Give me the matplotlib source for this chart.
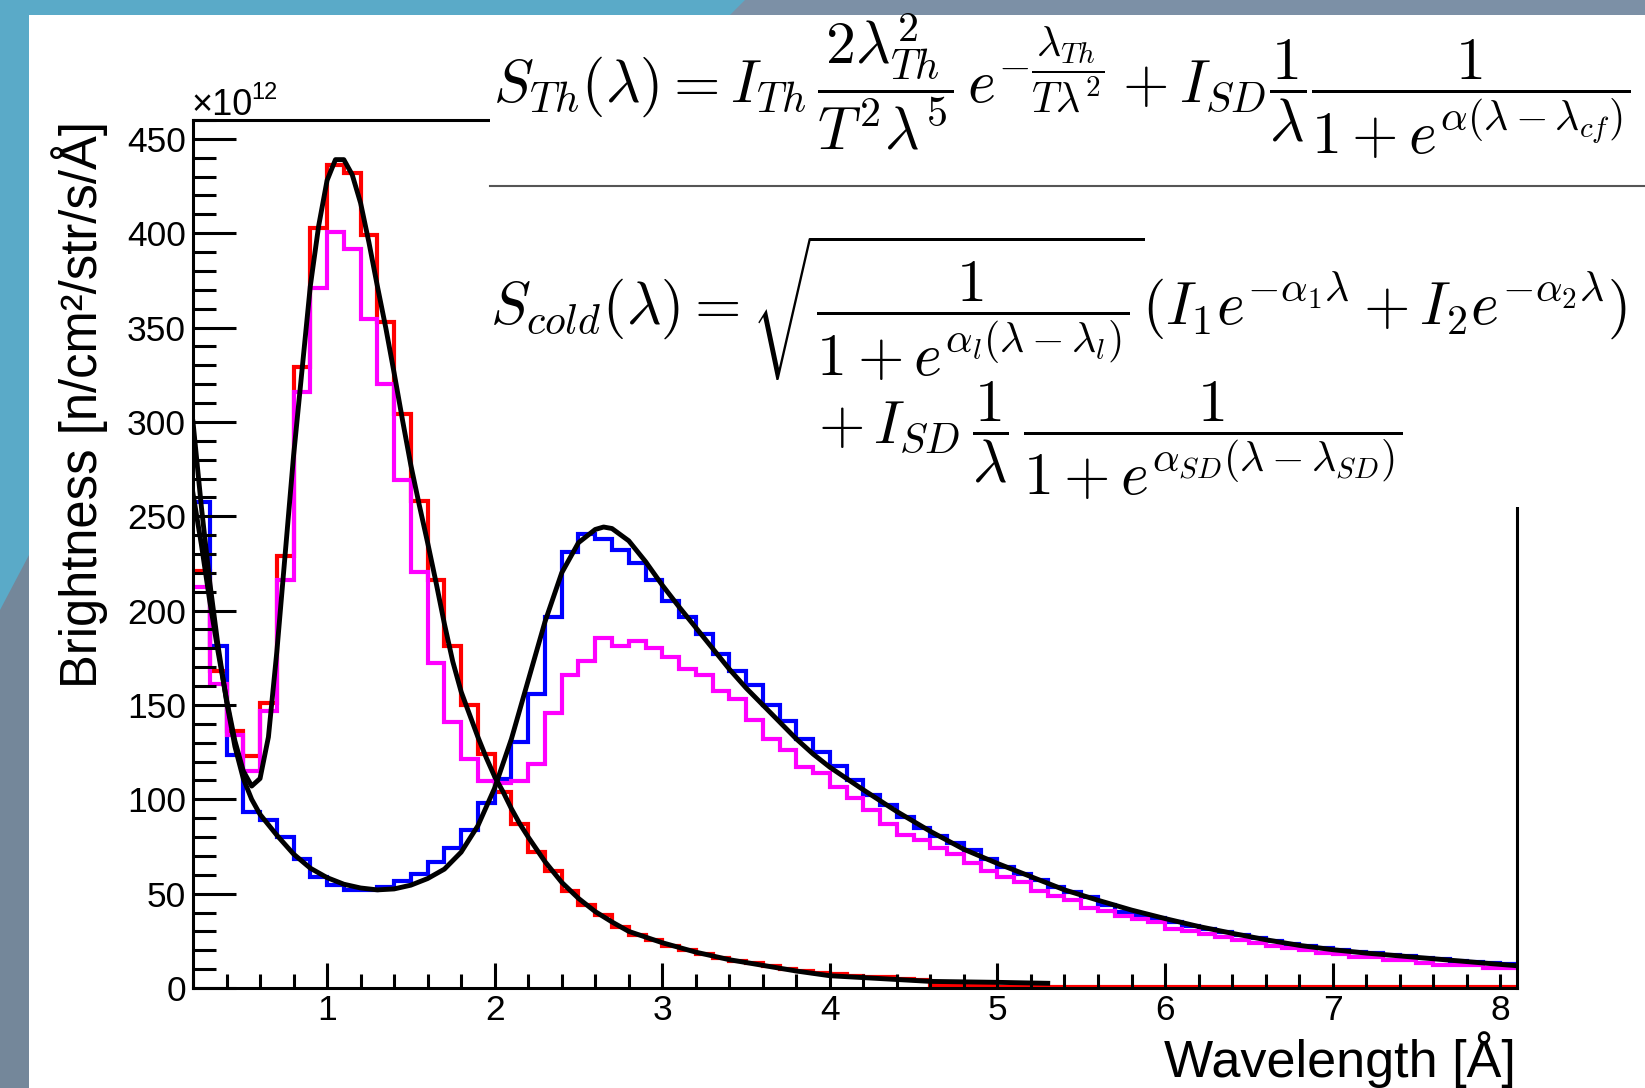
import numpy as np
import matplotlib
matplotlib.use("Agg")
import matplotlib.pyplot as plt
from matplotlib.patches import Rectangle, Polygon
from matplotlib.lines import Line2D
from matplotlib.ticker import MultipleLocator, FixedLocator

plt.rcParams['font.family'] = ['Liberation Sans', 'DejaVu Sans']
plt.rcParams['mathtext.fontset'] = 'cm'

W, H = 1645, 1088

# histogram bins (Angstrom), 0.1 wide from 0.2 to 8.1
bin_edges = np.round(np.arange(0.2, 8.1001, 0.1), 2)

# thermal moderator spectrum (red), x1e12 n/cm2/str/s/A
thermal_hist = [221, 168, 136, 123, 151, 229, 329, 403, 436, 432,
                399, 353, 304, 258, 216, 181, 150, 124, 104, 87,
                72, 62, 51.5, 44, 38.5, 32.5, 28, 25.5, 22.5, 20,
                18, 16, 14.5, 13, 11.5, 10, 9, 8, 7.4, 6.5,
                6, 6, 5, 4, 1.6, 1.2, 1.0, 0.8, 0.6, 0.4,
                0.3, 0.3, 0.3, 0.3, 0.3, 0.3, 0.3, 0.3, 0.3, 0.3,
                0.3, 0.3, 0.3, 0.3, 0.3, 0.3, 0.3, 0.3, 0.3, 0.3,
                0.3, 0.3, 0.3, 0.3, 0.3, 0.3, 0.3, 0.3, 0.3]

# cold moderator spectrum (blue)
cold_hist = [257.5, 181.5, 123.5, 93.5, 89, 80, 68.5, 59, 54.5, 52,
             52, 53.5, 56.5, 60.5, 67, 74, 83.5, 98, 111, 130.5,
             156, 196.5, 231, 240.5, 238, 232, 225, 216, 205, 196.5,
             187.5, 177, 168, 160.5, 150, 141.5, 132, 125, 117.5, 110,
             102.5, 97, 90.5, 85, 80.5, 77, 73, 68.5, 64, 60.5,
             57, 53.5, 51, 48, 44, 40.5, 38.5, 37, 35, 33,
             31.5, 29.5, 28, 26.5, 25, 23.5, 22.5, 21.3, 20.3, 19.3,
             18.5, 17.5, 16.8, 16, 15.2, 14.5, 13.8, 13.2, 12.5]

# mixed spectrum (magenta)
mixed_hist = [212.5, 161, 134, 115, 147, 216, 316, 371, 400.5, 391.5,
              354.5, 320, 269, 220.5, 172.5, 141, 121.5, 109.5, 108.5, 109.5,
              118.5, 145.5, 166, 173.5, 185.5, 181.5, 184, 180, 175.5, 169,
              166, 157.5, 153, 142, 132, 126, 117, 114, 106.5, 100.5,
              94.5, 87, 81, 78.5, 74, 71, 66.5, 62, 59, 56,
              51.5, 48.5, 46.5, 42.5, 41, 38, 36.5, 35, 31.5, 30,
              28.5, 27, 25.5, 24, 22.5, 21, 20, 18.5, 18, 16.5,
              16.5, 15, 15, 13.5, 12, 12, 12, 10.5, 10.5]

# fitted S_Th curve (black)
thermal_fit_x = [0.20, 0.25, 0.30, 0.35, 0.40, 0.45, 0.50, 0.55, 0.60, 0.65,
                 0.70, 0.75, 0.80, 0.85, 0.90, 0.95, 1.00, 1.05, 1.10, 1.15,
                 1.20, 1.25, 1.30, 1.35, 1.40, 1.45, 1.50, 1.55, 1.60, 1.65,
                 1.70, 1.75, 1.80, 1.85, 1.90, 1.95, 2.00, 2.05, 2.10, 2.15,
                 2.20, 2.30, 2.40, 2.50, 2.60, 2.70, 2.80, 2.90, 3.00, 3.20,
                 3.40, 3.60, 3.80, 4.00, 4.30, 4.60, 5.00, 5.30]
thermal_fit_y = [262, 235, 205, 178, 153, 131, 115, 107, 111, 133,
                 178, 230, 282, 327, 372, 404, 428, 439, 439, 431,
                 416, 395, 372, 350, 326, 301, 277, 256, 236, 215,
                 193, 173, 157, 145, 133, 122, 112, 104, 95, 87,
                 80, 67, 56, 47.5, 40.5, 35, 30, 27, 24, 19,
                 15, 12, 9, 6.5, 5, 3.5, 3, 2.5]

# fitted S_cold curve (black)
cold_fit_x = [0.20, 0.25, 0.30, 0.35, 0.40, 0.45, 0.50, 0.55, 0.60, 0.70,
              0.80, 0.90, 1.00, 1.10, 1.20, 1.30, 1.40, 1.50, 1.60, 1.70,
              1.80, 1.90, 2.00, 2.10, 2.20, 2.30, 2.40, 2.50, 2.60, 2.65,
              2.70, 2.80, 2.90, 3.00, 3.10, 3.20, 3.30, 3.40, 3.50, 3.60,
              3.70, 3.80, 3.90, 4.00, 4.20, 4.40, 4.60, 4.80, 5.00, 5.20,
              5.40, 5.60, 5.80, 6.00, 6.20, 6.40, 6.60, 6.80, 7.00, 7.20,
              7.40, 7.60, 7.80, 8.00, 8.10]
cold_fit_y = [300, 255, 215, 181, 152, 128, 111, 100, 92, 81,
              71, 63.5, 58.5, 55, 53, 52, 52.5, 54.5, 58, 63,
              72, 86, 106, 132, 163, 194, 220, 236, 243, 244.3,
              243.5, 237, 226, 213.5, 202, 191, 180, 169, 159, 150,
              141, 132, 124, 117, 105, 93.5, 83, 73.5, 66, 59,
              52, 46.5, 41.3, 36.8, 32.6, 29, 25.6, 22.6, 20.3, 18.5,
              17, 15.5, 14, 12.5, 11.8]

eq_th = (r"$S_{Th}(\lambda) = I_{Th}\,\dfrac{2\lambda_{Th}^{2}}{T^{2}\lambda^{5}}\,"
         r"e^{-\dfrac{\lambda_{Th}}{T\lambda^{2}}} + I_{SD}\dfrac{1}{\lambda}"
         r"\dfrac{1}{1+e^{\alpha(\lambda-\lambda_{cf})}}$")
eq_cold = (r"$S_{cold}(\lambda) = \sqrt{\dfrac{1}{1+e^{\alpha_{l}(\lambda-\lambda_{l})}}}"
           r"(I_{1}e^{-\alpha_{1}\lambda} + I_{2}e^{-\alpha_{2}\lambda})$")
eq_sd = r"$+\,I_{SD}\,\dfrac{1}{\lambda}\,\dfrac{1}{1+e^{\alpha_{SD}(\lambda-\lambda_{SD})}}$"


def fx(px):
    return px / W


def fy(py):
    return 1 - py / H


fig = plt.figure(figsize=(W / 100, H / 100), dpi=100)
fig.patch.set_facecolor('#5aaac8')

# slide background: grey bands and white panel
fig.add_artist(Polygon([(fx(0), fy(610)), (fx(29), fy(555)), (fx(29), fy(1088)), (fx(0), fy(1088))],
                       closed=True, transform=fig.transFigure, facecolor='#74879a', edgecolor='none', zorder=-3))
fig.add_artist(Polygon([(fx(745), fy(0)), (fx(1645), fy(0)), (fx(1645), fy(15)), (fx(730), fy(15))],
                       closed=True, transform=fig.transFigure, facecolor='#7c90a6', edgecolor='none', zorder=-3))
fig.add_artist(Rectangle((fx(29), 0), 1 - fx(29), fy(15), transform=fig.transFigure,
                         facecolor='white', edgecolor='none', zorder=-2))

ax = fig.add_axes([fx(193), fy(988), (1517 - 193) / W, (988 - 120) / H])
ax.set_facecolor('white')

ax.stairs(thermal_hist, bin_edges, baseline=None, color='#ff0000', lw=3)
ax.stairs(cold_hist, bin_edges, baseline=None, color='#0000ff', lw=3)
ax.stairs(mixed_hist, bin_edges, baseline=None, color='#ff00ff', lw=3)
ax.plot(thermal_fit_x, thermal_fit_y, color='black', lw=3.5, solid_joinstyle='round')
ax.plot(cold_fit_x, cold_fit_y, color='black', lw=3.5, solid_joinstyle='round')

ax.set_xlim(0.2, 8.1)
ax.set_ylim(0, 460)

ax.xaxis.set_major_locator(FixedLocator([1, 2, 3, 4, 5, 6, 7, 8]))
ax.xaxis.set_minor_locator(MultipleLocator(0.2))
ax.yaxis.set_major_locator(MultipleLocator(50))
ax.yaxis.set_minor_locator(MultipleLocator(10))

ax.tick_params(which='both', direction='in', top=False, right=False, width=2.2, colors='black')
ax.tick_params(axis='x', which='major', length=18, pad=4.5, labelsize=25.5)
ax.tick_params(axis='x', which='minor', length=10)
ax.tick_params(axis='y', which='major', length=31, pad=5, labelsize=25.5)
ax.tick_params(axis='y', which='minor', length=16.5)

for side in ['left', 'bottom', 'top', 'right']:
    ax.spines[side].set_linewidth(2.2)
    ax.spines[side].set_color('black')

fig.canvas.draw()
ax.xaxis.get_major_ticks()[-1].tick1line.set_markersize(10)

# axis titles and exponent, ROOT style
fig.text(fx(97), fy(121), "Brightness [n/cm²/str/s/Å]", rotation=90, rotation_mode='anchor',
         ha='right', va='baseline', fontsize=36.5)
fig.text(fx(1516), fy(1077), "Wavelength [Å]", ha='right', va='baseline', fontsize=37.5)
fig.text(fx(191), fy(115), "×10", ha='left', va='baseline', fontsize=26)
fig.text(fx(251), fy(99), "12", ha='left', va='baseline', fontsize=17)

# equation panel pasted over the upper right of the frame
fig.add_artist(Rectangle((fx(490), fy(507)), 1 - fx(490), (507 - 15) / H, transform=fig.transFigure,
                         facecolor='white', edgecolor='none', zorder=5))
fig.add_artist(Line2D([fx(490), 1.0], [fy(186), fy(186)], transform=fig.transFigure,
                      color='#555555', lw=1.5, zorder=6))
fig.text(fx(493), fy(86), eq_th, ha='left', va='center', fontsize=43, zorder=7)
fig.text(fx(490), fy(308), eq_cold, ha='left', va='center', fontsize=43, zorder=7)
fig.text(fx(818), fy(441), eq_sd, ha='left', va='center', fontsize=43, zorder=7)

fig.savefig("out.png", dpi=100, facecolor=fig.get_facecolor())
